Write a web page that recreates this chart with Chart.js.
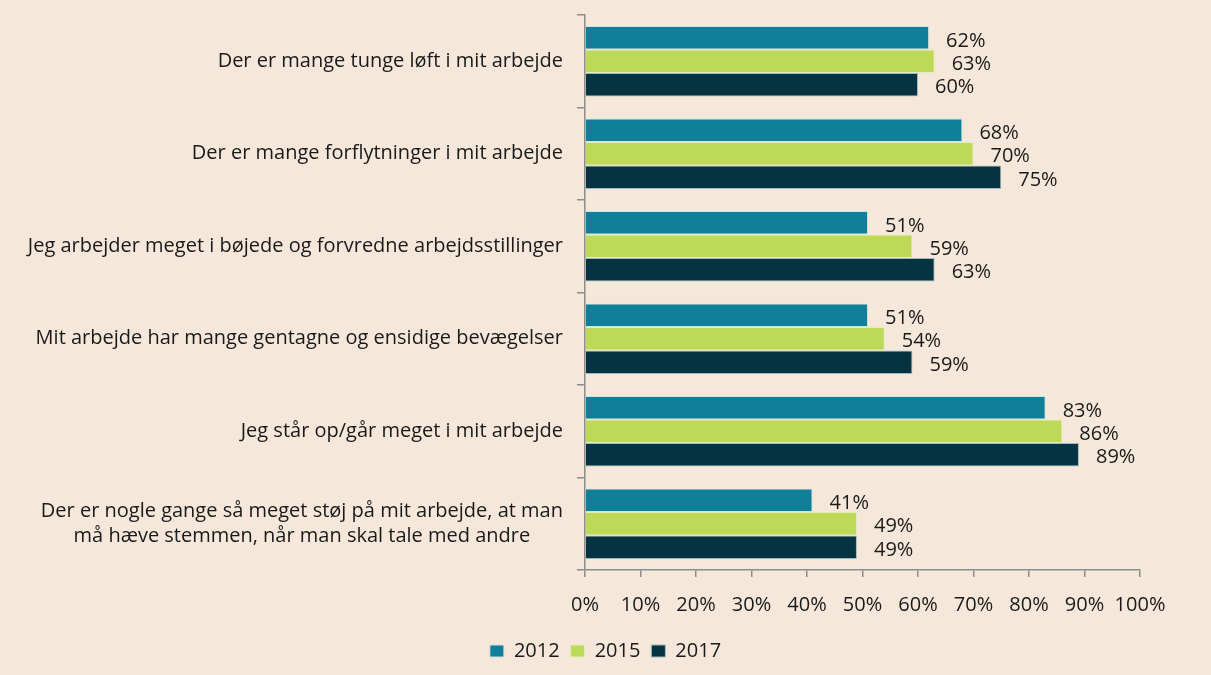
<!DOCTYPE html>
<html>
<head>
<meta charset="utf-8">
<script src="https://cdn.jsdelivr.net/npm/chart.js@4.4.0/dist/chart.umd.min.js"></script>
<style>
  html, body { margin: 0; padding: 0; background: #f5e8da; }
  #wrap { width: 1211px; height: 675px; }
</style>
</head>
<body>
<div id="wrap"><canvas id="myChart" width="1211" height="675"></canvas></div>
<script>
// data
const categories = [
    ['Der er mange tunge løft i mit arbejde'],
    ['Der er mange forflytninger i mit arbejde'],
    ['Jeg arbejder meget i bøjede og forvredne arbejdsstillinger'],
    ['Mit arbejde har mange gentagne og ensidige bevægelser'],
    ['Jeg står op/går meget i mit arbejde'],
    ['Der er nogle gange så meget støj på mit arbejde, at man', 'må hæve stemmen, når man skal tale med andre']
];
const values2012 = [62, 68, 51, 51, 83, 41];
const values2015 = [63, 70, 59, 54, 86, 49];
const values2017 = [60, 75, 63, 59, 89, 49];
const xTicks = [0, 10, 20, 30, 40, 50, 60, 70, 80, 90, 100];

const FONT = '"Open Sans", "Noto Sans", sans-serif';
const FSIZE = 20;

// draws category labels (right aligned, multi-line centred) and value labels
const labelPlugin = {
    id: 'labels',
    afterDatasetsDraw(chart) {
        const ctx = chart.ctx;
        const yScale = chart.scales.y;
        ctx.save();
        ctx.fillStyle = '#1a1a1a';
        ctx.font = FSIZE + 'px ' + FONT;
        ctx.textBaseline = 'middle';

        // category labels
        const rightX = yScale.right - 22;
        categories.forEach((lines, i) => {
            const cy = yScale.getPixelForValue(i);
            const lh = 25;
            if (lines.length === 1) {
                ctx.textAlign = 'right';
                ctx.fillText(lines[0], rightX, cy);
            } else {
                const maxW = Math.max(...lines.map(l => ctx.measureText(l).width));
                const cx = rightX - maxW / 2;
                ctx.textAlign = 'center';
                lines.forEach((l, j) => {
                    ctx.fillText(l, cx, cy + (j - (lines.length - 1) / 2) * lh);
                });
            }
        });

        // value labels
        ctx.textAlign = 'left';
        chart.data.datasets.forEach((ds, di) => {
            const meta = chart.getDatasetMeta(di);
            meta.data.forEach((bar, i) => {
                ctx.fillText(ds.data[i] + '%', bar.x + 17, bar.y + 3);
            });
        });
        ctx.restore();
    }
};

const ctx = document.getElementById('myChart').getContext('2d');
const myChart = new Chart(ctx, {
    type: 'bar',
    data: {
        labels: categories,
        datasets: [{
            label: '2012',
            data: values2012,
            backgroundColor: '#0f7f9a',
            borderColor: '#cfe3e4',
            borderWidth: 1
        }, {
            label: '2015',
            data: values2015,
            backgroundColor: '#bed958',
            borderColor: '#e4eeb8',
            borderWidth: 1
        }, {
            label: '2017',
            data: values2017,
            backgroundColor: '#063342',
            borderColor: '#9fb8bd',
            borderWidth: 1
        }]
    },
    options: {
        indexAxis: 'y',
        responsive: false,
        animation: false,
        layout: {
            padding: { top: 15, right: 0, bottom: 4, left: 0 }
        },
        datasets: {
            bar: {
                categoryPercentage: 0.76,
                barPercentage: 1.0
            }
        },
        plugins: {
            legend: {
                position: 'bottom',
                labels: {
                    boxWidth: 14,
                    boxHeight: 12,
                    padding: 11,
                    color: '#1a1a1a',
                    font: { family: FONT, size: FSIZE }
                }
            },
            tooltip: { enabled: false }
        },
        scales: {
            x: {
                min: 0,
                max: 100,
                afterBuildTicks(scale) {
                    scale.ticks = xTicks.map(v => ({ value: v }));
                },
                afterFit(scale) {
                    scale.height = 60;
                },
                ticks: {
                    callback: v => v + '%',
                    color: '#1a1a1a',
                    padding: 16,
                    maxRotation: 0,
                    font: { family: FONT, size: FSIZE }
                },
                grid: {
                    drawOnChartArea: false,
                    drawTicks: true,
                    tickLength: 7,
                    color: '#8c8c8c',
                    lineWidth: 1.5
                },
                border: { display: true, color: '#8c8c8c', width: 1.5 }
            },
            y: {
                afterFit(scale) {
                    scale.width = 585;
                },
                ticks: { display: false },
                grid: {
                    offset: true,
                    drawOnChartArea: false,
                    drawTicks: true,
                    tickLength: 8,
                    color: '#8c8c8c',
                    lineWidth: 1.5
                },
                border: { display: true, color: '#8c8c8c', width: 1.5 }
            },
            // empty right axis, only reserves room to the right of the plot
            yRight: {
                position: 'right',
                afterFit(scale) {
                    scale.width = 71;
                },
                ticks: { display: false },
                grid: { display: false, drawTicks: false },
                border: { display: false }
            }
        }
    },
    plugins: [labelPlugin]
});
</script>
</body>
</html>
